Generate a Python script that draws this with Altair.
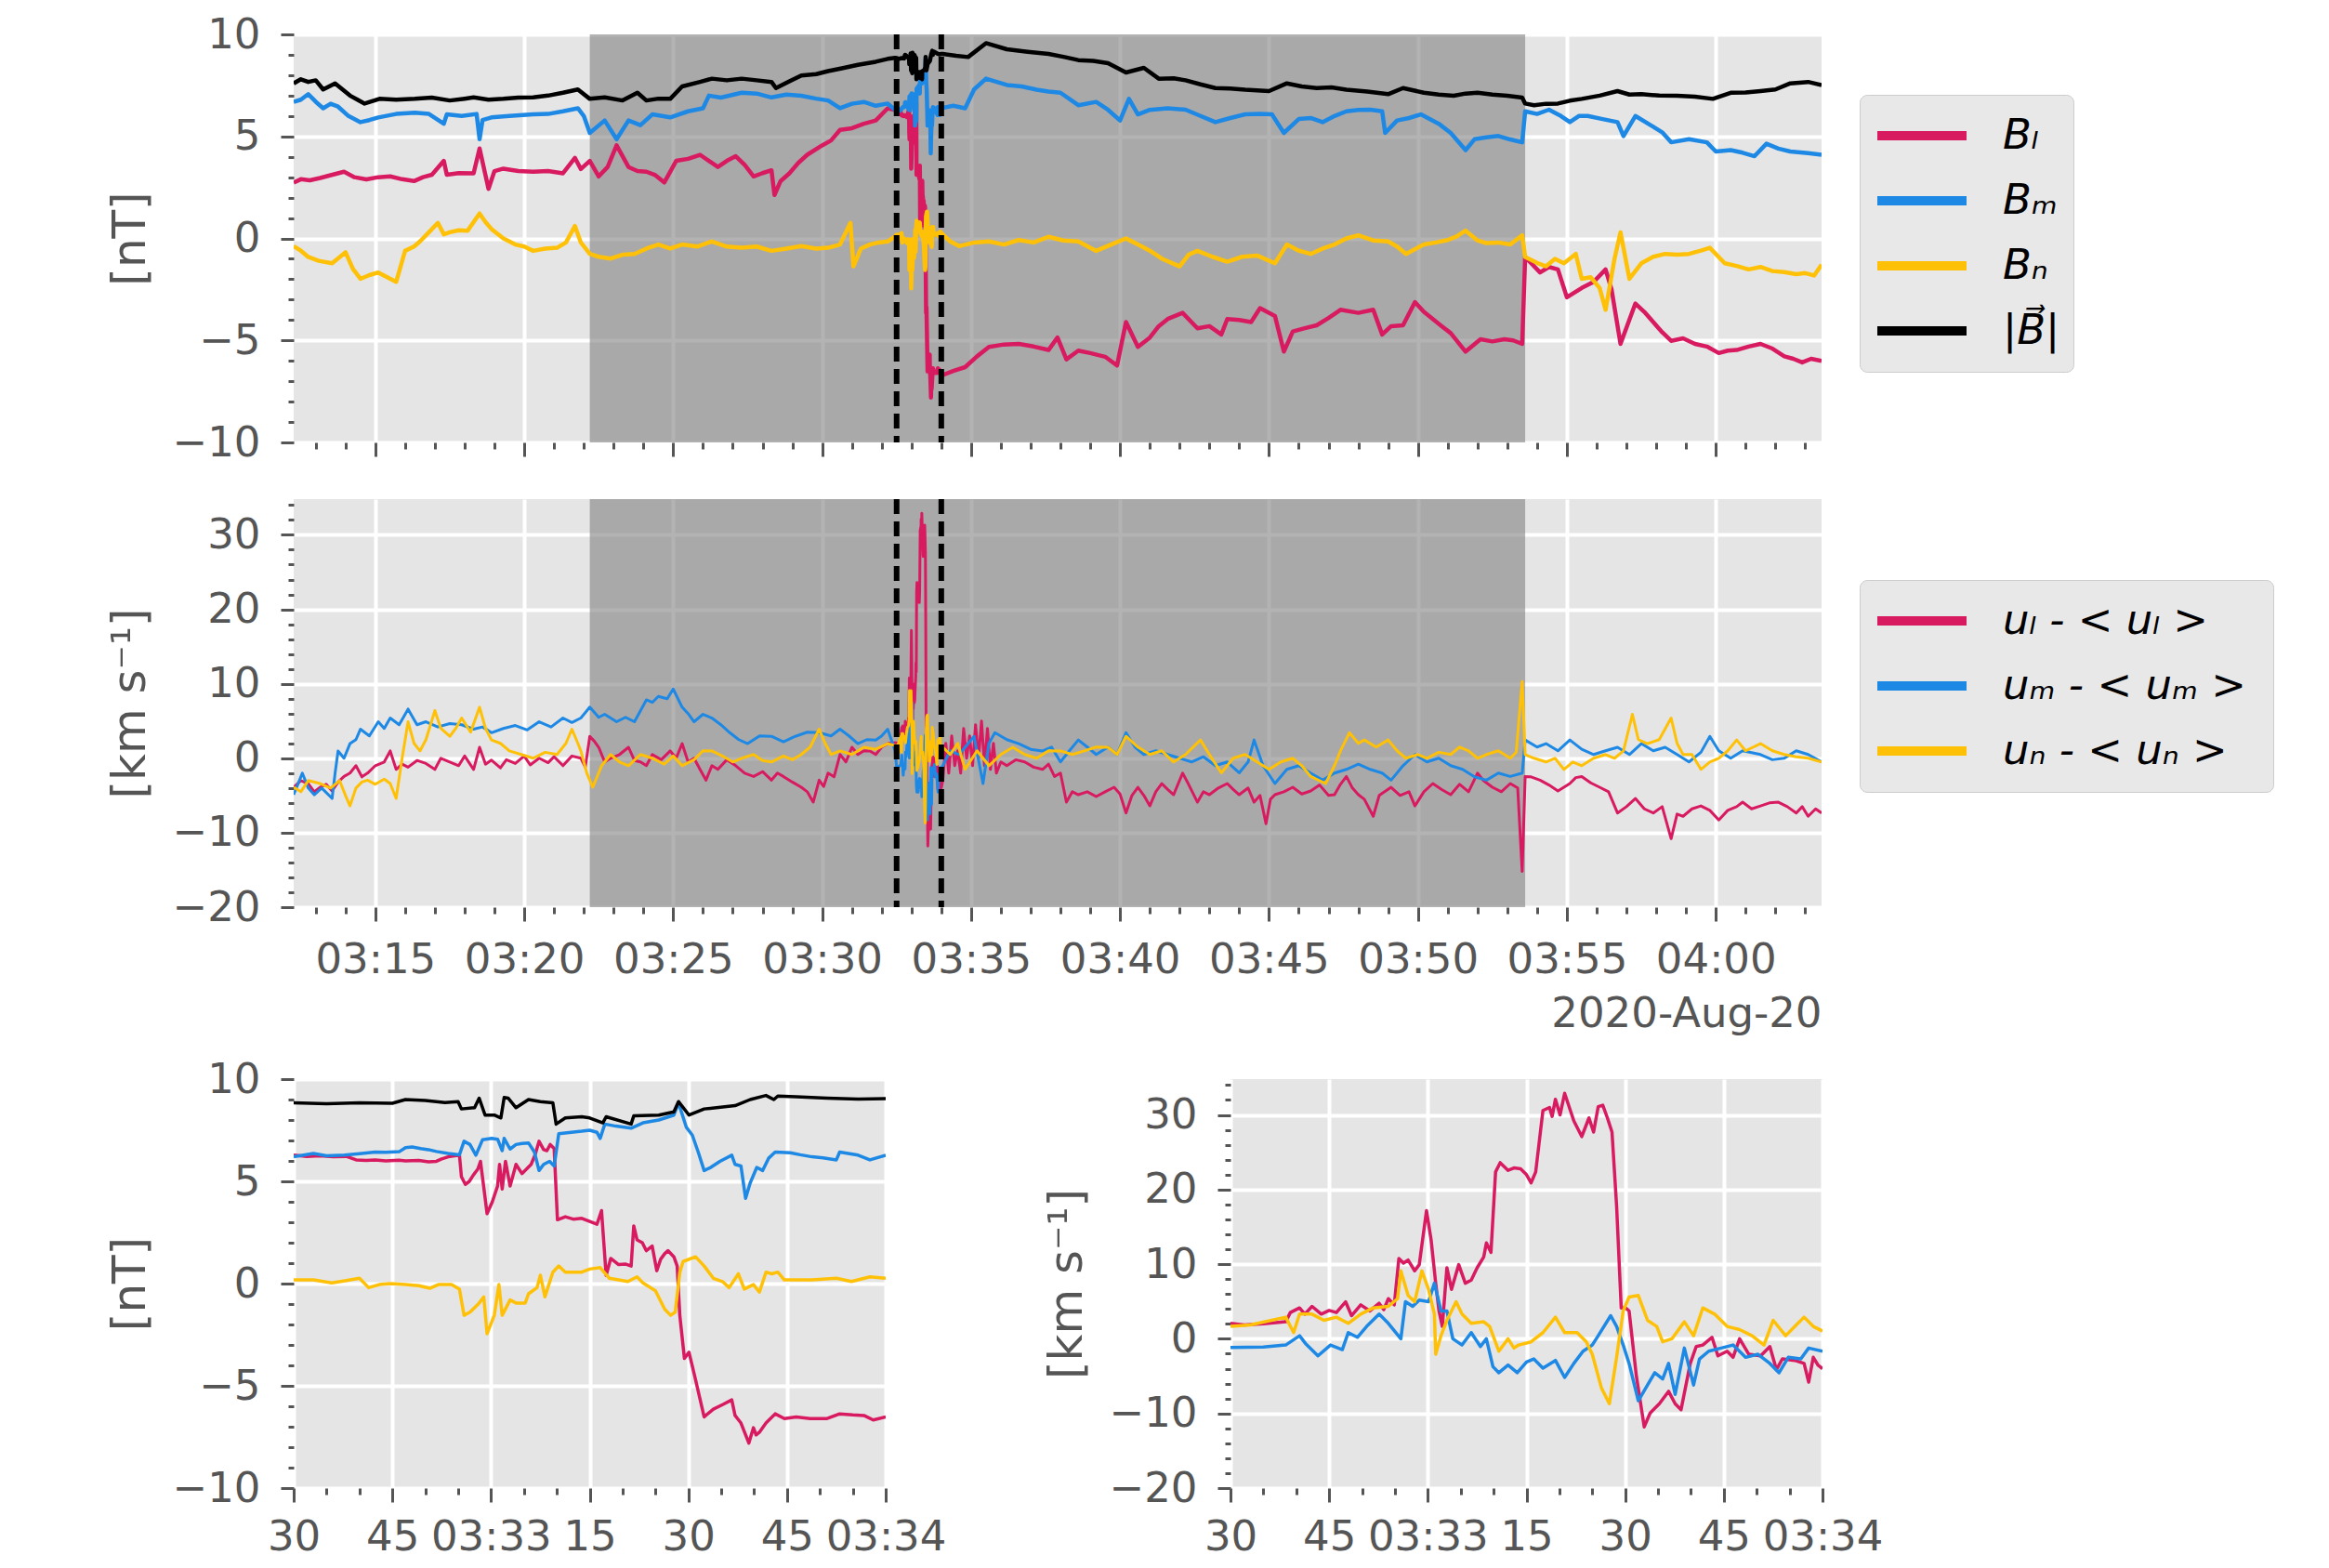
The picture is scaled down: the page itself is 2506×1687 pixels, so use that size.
import altair as alt
import pandas as pd

# ---------------- values ----------------
# Overview panels: (minutes after 03:00, value). Zoom panels: (seconds after 03:32:00, value)

BT_PRE = [(12.26, 7.6), (12.5, 7.8), (12.75, 7.67), (13.0, 7.75), (13.25, 7.3), (13.65, 7.6), (13.9, 7.3), (14.15, 7.0),
          (14.4, 6.8), (14.64, 6.61), (15.14, 6.84), (15.7, 6.8), (16.33, 6.84), (16.9, 6.9), (17.5, 6.76), (18.0, 6.85),
          (18.3, 6.91), (18.8, 6.8), (19.3, 6.84), (19.8, 6.9), (20.3, 6.91), (20.8, 7.0), (21.3, 7.14), (21.8, 7.3),
          (22.2, 6.84), (22.7, 6.91), (23.3, 6.76), (23.8, 7.14), (24.1, 6.76), (24.5, 6.85), (24.9, 6.84), (25.3, 7.45),
          (25.9, 7.67), (26.3, 7.83), (26.8, 7.75), (27.3, 7.83), (27.8, 7.75), (28.3, 7.67), (28.45, 7.37), (28.9, 7.7),
          (29.3, 7.98), (29.8, 8.05), (30.2, 8.2), (30.7, 8.35), (31.2, 8.51), (31.8, 8.66), (32.2, 8.8), (32.45, 8.85)]
BT_POST = [(34.05, 9.04), (34.5, 8.95), (34.9, 8.89), (35.5, 9.57), (36.2, 9.27), (36.9, 9.15), (37.6, 9.04), (38.1, 8.9),
           (38.6, 8.74), (39.1, 8.7), (39.6, 8.59), (40.2, 8.13), (40.8, 8.36), (41.3, 7.83), (41.8, 7.85), (42.2, 7.75),
           (42.7, 7.55), (43.2, 7.37), (43.7, 7.35), (44.2, 7.29), (45.0, 7.22), (45.6, 7.6), (46.1, 7.45), (46.6, 7.37),
           (47.1, 7.4), (47.6, 7.29), (48.3, 7.2), (49.0, 7.07), (49.5, 7.37), (50.2, 7.14), (50.7, 7.05), (51.2, 6.99),
           (51.6, 7.1), (52.0, 7.14), (52.5, 7.05), (53.0, 6.99), (53.5, 6.9), (53.6, 6.61), (53.9, 6.53), (54.3, 6.6),
           (54.7, 6.61), (55.1, 6.75), (55.5, 6.84), (56.1, 7.0), (56.7, 7.22), (57.1, 7.05), (57.5, 7.07), (58.1, 7.0),
           (58.7, 6.99), (59.3, 6.95), (59.9, 6.84), (60.5, 7.14), (61.0, 7.15), (61.5, 7.22), (62.0, 7.3), (62.5, 7.6),
           (63.1, 7.67), (63.55, 7.52)]

BM_PRE = [(12.26, 6.69), (12.5, 6.8), (12.75, 7.07), (13.0, 6.7), (13.25, 6.38), (13.5, 6.6), (13.75, 6.46), (14.1, 6.0),
          (14.5, 5.7), (14.8, 5.8), (15.1, 5.93), (15.7, 6.1), (16.33, 6.16), (16.8, 6.1), (17.3, 5.62), (17.4, 6.08),
          (17.9, 6.0), (18.4, 6.1), (18.5, 4.86), (18.6, 5.8), (18.9, 5.93), (19.5, 6.0), (20.3, 6.08), (20.8, 6.1),
          (21.3, 6.23), (21.8, 6.38), (22.0, 6.0), (22.2, 5.17), (22.7, 5.78), (23.1, 4.86), (23.5, 5.78), (23.9, 5.55),
          (24.3, 6.08), (24.9, 5.93), (25.5, 6.23), (26.0, 6.38), (26.2, 7.0), (26.6, 6.9), (27.3, 7.14), (27.8, 7.1),
          (28.3, 6.91), (28.8, 7.05), (29.3, 6.99), (29.8, 6.85), (30.2, 6.76), (30.6, 6.38), (31.0, 6.6), (31.4, 6.69),
          (31.8, 6.5), (32.2, 6.61), (32.45, 6.3)]
BM_POST = [(34.05, 6.4), (34.4, 6.5), (34.8, 6.38), (35.1, 7.3), (35.5, 7.83), (36.2, 7.52), (36.7, 7.45), (37.2, 7.29),
           (37.6, 7.2), (38.0, 7.14), (38.6, 6.53), (39.2, 6.69), (39.6, 6.3), (40.0, 5.78), (40.3, 6.84), (40.6, 6.08),
           (41.0, 6.3), (41.6, 6.38), (42.2, 6.31), (42.7, 6.0), (43.2, 5.7), (43.7, 5.9), (44.2, 6.08), (44.7, 6.1),
           (45.1, 6.08), (45.5, 5.17), (46.0, 5.85), (46.4, 5.9), (46.8, 5.7), (47.2, 6.0), (47.6, 6.23), (48.0, 6.3),
           (48.4, 6.31), (48.8, 6.23), (48.9, 5.17), (49.3, 5.78), (49.7, 5.9), (50.1, 6.08), (50.7, 5.62), (51.1, 5.17),
           (51.6, 4.33), (51.9, 4.86), (52.3, 4.95), (52.7, 5.02), (53.1, 4.85), (53.5, 4.71), (53.6, 6.23), (54.0, 6.1),
           (54.4, 6.31), (54.8, 6.0), (55.1, 5.7), (55.4, 6.0), (55.7, 6.0), (56.2, 5.85), (56.7, 5.7), (56.9, 5.02),
           (57.3, 6.0), (57.9, 5.47), (58.2, 5.2), (58.5, 4.71), (59.1, 4.86), (59.7, 4.71), (60.0, 4.26), (60.5, 4.33),
           (60.9, 4.2), (61.3, 4.03), (61.7, 4.64), (62.1, 4.4), (62.5, 4.26), (63.1, 4.18), (63.55, 4.1)]

BL_PRE = [(12.26, 2.74), (12.5, 2.9), (12.8, 2.85), (13.15, 2.96), (13.5, 3.1), (13.95, 3.27), (14.3, 3.0), (14.7, 2.89),
          (15.1, 3.0), (15.5, 3.04), (15.9, 2.9), (16.3, 2.81), (16.6, 3.0), (16.9, 3.12), (17.3, 3.8), (17.4, 3.12),
          (17.8, 3.2), (18.3, 3.19), (18.5, 4.41), (18.8, 2.43), (19.0, 3.3), (19.3, 3.42), (19.8, 3.3), (20.3, 3.27),
          (20.8, 3.3), (21.3, 3.19), (21.7, 3.95), (21.9, 3.4), (22.2, 3.8), (22.5, 3.04), (22.8, 3.5), (23.1, 4.56),
          (23.5, 3.5), (23.8, 3.3), (24.1, 3.27), (24.4, 3.1), (24.7, 2.74), (25.1, 3.8), (25.5, 3.9), (25.9, 4.1),
          (26.2, 3.8), (26.5, 3.5), (26.8, 3.8), (27.1, 4.03), (27.4, 3.6), (27.7, 3.04), (28.0, 3.2), (28.3, 3.34),
          (28.4, 2.13), (28.6, 2.8), (28.9, 3.19), (29.2, 3.7), (29.5, 4.1), (30.0, 4.56), (30.3, 4.8), (30.6, 5.32),
          (31.0, 5.4), (31.4, 5.62), (31.8, 5.78), (32.2, 6.38), (32.45, 6.3)]
BL_POST = [(34.05, -6.7), (34.4, -6.5), (34.8, -6.31), (35.2, -5.78), (35.6, -5.32), (36.1, -5.2), (36.6, -5.17),
           (37.1, -5.3), (37.6, -5.47), (37.9, -4.86), (38.2, -5.93), (38.6, -5.5), (39.0, -5.62), (39.5, -5.8),
           (39.9, -6.23), (40.2, -4.1), (40.6, -5.32), (41.0, -4.86), (41.3, -4.3), (41.6, -3.95), (42.1, -3.65),
           (42.6, -4.41), (43.0, -4.3), (43.4, -4.71), (43.6, -3.95), (44.0, -4.0), (44.4, -4.1), (44.7, -3.42),
           (45.2, -3.8), (45.5, -5.55), (45.8, -4.56), (46.2, -4.4), (46.6, -4.26), (47.0, -3.9), (47.4, -3.5),
           (48.0, -3.65), (48.5, -3.5), (48.8, -4.71), (49.1, -4.3), (49.5, -4.26), (49.9, -3.12), (50.2, -3.6),
           (50.5, -3.95), (50.8, -4.3), (51.1, -4.64), (51.6, -5.55), (52.1, -4.94), (52.5, -5.05), (52.9, -4.94),
           (53.2, -5.0), (53.5, -5.17), (53.6, -0.91), (54.1, -1.67), (54.4, -1.4), (54.7, -1.52), (55.0, -2.89),
           (55.5, -2.43), (55.9, -2.13), (56.3, -1.52), (56.5, -2.5), (56.8, -5.17), (57.3, -3.19), (57.6, -3.6),
           (57.9, -4.1), (58.2, -4.6), (58.5, -5.02), (58.9, -4.9), (59.3, -5.17), (59.7, -5.3), (60.1, -5.62),
           (60.4, -5.5), (60.7, -5.47), (61.1, -5.3), (61.5, -5.17), (61.9, -5.4), (62.3, -5.78), (62.6, -5.9),
           (62.9, -6.08), (63.2, -5.9), (63.55, -6.0)]

BN_PRE = [(12.26, -0.38), (12.5, -0.6), (12.75, -0.91), (13.1, -1.1), (13.55, -1.22), (14.0, -0.68), (14.25, -1.5),
          (14.5, -1.98), (14.8, -1.8), (15.1, -1.67), (15.4, -1.9), (15.7, -2.13), (16.0, -0.61), (16.3, -0.4),
          (16.5, -0.15), (16.8, 0.3), (17.1, 0.76), (17.3, 0.2), (17.5, 0.3), (17.8, 0.4), (18.1, 0.38), (18.5, 1.22),
          (18.7, 0.8), (18.9, 0.46), (19.3, 0.0), (19.7, -0.3), (20.0, -0.4), (20.3, -0.61), (20.7, -0.5), (21.1, -0.46),
          (21.4, -0.2), (21.7, 0.61), (21.9, -0.2), (22.2, -0.76), (22.5, -0.9), (22.9, -0.99), (23.3, -0.8),
          (23.7, -0.76), (24.1, -0.5), (24.5, -0.3), (24.9, -0.5), (25.3, -0.3), (25.8, -0.4), (26.3, -0.15),
          (26.8, -0.4), (27.3, -0.46), (27.8, -0.4), (28.3, -0.61), (28.8, -0.5), (29.3, -0.38), (29.8, -0.5),
          (30.2, -0.46), (30.6, -0.3), (30.95, 0.76), (31.05, -1.37), (31.3, -0.5), (31.6, -0.3), (31.9, -0.2),
          (32.2, -0.15), (32.45, 0.1)]
BN_POST = [(34.05, 0.2), (34.3, -0.15), (34.6, -0.38), (35.1, -0.2), (35.6, -0.15), (36.1, -0.3), (36.6, -0.08),
           (37.1, -0.2), (37.6, 0.08), (38.1, -0.1), (38.6, -0.15), (39.2, -0.61), (39.7, -0.3), (40.2, 0.0),
           (40.6, -0.3), (41.0, -0.6), (41.4, -0.99), (42.0, -1.37), (42.3, -0.8), (42.6, -0.61), (43.1, -0.9),
           (43.6, -1.14), (44.1, -0.9), (44.6, -0.84), (45.2, -1.22), (45.6, -0.3), (46.0, -0.6), (46.4, -0.76),
           (46.8, -0.5), (47.2, -0.3), (47.6, 0.0), (48.0, 0.15), (48.5, -0.1), (49.0, -0.15), (49.3, -0.4),
           (49.6, -0.76), (50.2, -0.3), (50.6, -0.2), (51.0, -0.08), (51.3, 0.1), (51.6, 0.38), (52.0, -0.1),
           (52.3, -0.23), (52.7, -0.2), (53.1, -0.3), (53.5, 0.15), (53.6, -0.91), (54.0, -1.2), (54.3, -1.37),
           (54.6, -1.0), (54.9, -1.22), (55.3, -0.76), (55.5, -1.98), (55.8, -1.9), (56.1, -2.43), (56.3, -3.5),
           (56.6, -1.0), (56.8, 0.3), (57.1, -1.98), (57.5, -1.22), (57.9, -0.9), (58.3, -0.76), (58.7, -0.8),
           (59.1, -0.76), (59.5, -0.6), (59.8, -0.46), (60.3, -1.22), (60.7, -1.35), (61.1, -1.52), (61.5, -1.4),
           (61.9, -1.6), (62.3, -1.65), (62.7, -1.75), (63.0, -1.7), (63.3, -1.82), (63.55, -1.29)]

UL_PRE = [(12.26, -3.9), (12.5, -3.0), (12.75, -3.4), (12.95, -4.5), (13.15, -3.9), (13.35, -3.5), (13.55, -4.4),
          (13.75, -3.2), (13.95, -2.45), (14.15, -2.0), (14.35, -1.0), (14.55, -2.5), (14.74, -2.0), (15.0, -1.0),
          (15.3, -0.5), (15.5, 0.98), (15.7, -1.5), (15.9, -0.8), (16.1, -1.2), (16.4, -0.3), (16.7, -0.7), (17.0, -1.5),
          (17.2, 0.0), (17.5, -0.5), (17.8, -1.0), (18.0, 0.3), (18.3, -1.5), (18.5, 1.47), (18.7, -0.8), (18.9, -0.25),
          (19.2, -1.3), (19.4, -0.2), (19.7, -0.7), (20.0, 0.3), (20.2, -0.9), (20.5, 0.0), (20.8, -0.6), (21.0, 0.2),
          (21.3, -1.0), (21.6, 0.3), (21.9, 0.0), (22.05, -1.2), (22.2, 2.94), (22.35, 2.3), (22.5, 1.47), (22.7, -0.5),
          (22.9, 0.0), (23.2, 0.5), (23.5, 1.47), (23.7, -0.3), (23.9, -0.5), (24.1, -1.0), (24.3, 0.5), (24.6, -0.2),
          (24.9, 0.98), (25.1, 0.0), (25.3, 1.96), (25.5, -0.5), (25.7, 0.0), (25.9, -1.5), (26.1, -2.94), (26.3, -1.0),
          (26.5, -1.5), (26.8, -0.2), (27.1, -1.0), (27.4, -2.0), (27.7, -2.45), (28.0, -1.8), (28.3, -2.94),
          (28.5, -2.0), (28.7, -2.45), (29.0, -3.2), (29.3, -3.9), (29.5, -4.5), (29.7, -5.9), (29.9, -2.94),
          (30.05, -3.8), (30.2, -2.0), (30.4, -2.5), (30.6, 0.5), (30.8, -0.5), (31.0, 1.47), (31.2, 0.5), (31.4, 1.0),
          (31.6, 0.98), (31.8, 0.5), (32.0, 1.5), (32.2, 1.96), (32.45, 2.1)]
UL_POST = [(34.05, -3.0), (34.15, 2.0), (34.25, -2.0), (34.35, 3.0), (34.45, -1.0), (34.55, 1.0), (34.65, -2.0),
           (34.75, 4.0), (34.85, 0.0), (34.95, 3.0), (35.05, -1.0), (35.15, 4.5), (35.25, 0.0), (35.35, 5.0),
           (35.45, -1.0), (35.55, 4.0), (35.65, -1.5), (35.75, 2.0), (35.85, -2.0), (36.0, -0.5), (36.2, -1.0),
           (36.5, -0.2), (36.8, -0.5), (37.1, -1.2), (37.4, -1.5), (37.6, -0.8), (37.8, -2.45), (38.0, -2.0),
           (38.2, -5.9), (38.4, -4.5), (38.6, -4.9), (38.9, -4.5), (39.2, -5.15), (39.5, -4.5), (39.8, -3.9),
           (40.0, -4.8), (40.2, -7.35), (40.4, -5.0), (40.6, -3.9), (40.8, -5.0), (41.0, -6.4), (41.2, -4.5),
           (41.4, -3.4), (41.6, -4.2), (41.8, -4.9), (42.1, -2.0), (42.3, -3.5), (42.6, -5.9), (42.8, -4.5),
           (43.0, -4.9), (43.3, -4.0), (43.6, -3.4), (43.8, -4.2), (44.0, -4.9), (44.3, -4.0), (44.5, -5.9),
           (44.7, -5.0), (44.9, -8.8), (45.05, -5.5), (45.2, -4.9), (45.5, -4.5), (45.8, -3.9), (46.1, -4.8),
           (46.4, -4.4), (46.7, -3.6), (47.0, -5.0), (47.2, -4.9), (47.4, -3.5), (47.6, -2.45), (47.8, -4.0),
           (48.0, -4.9), (48.2, -5.5), (48.5, -7.8), (48.7, -5.0), (49.1, -3.9), (49.4, -5.0), (49.7, -4.5),
           (49.9, -6.4), (50.2, -4.5), (50.5, -3.4), (50.8, -4.2), (51.1, -4.9), (51.4, -3.5), (51.7, -4.5),
           (52.0, -2.0), (52.2, -3.0), (52.5, -3.9), (52.8, -4.5), (53.1, -3.4), (53.35, -4.0), (53.5, -15.2),
           (53.6, -2.45), (53.8, -2.5), (54.1, -2.94), (54.4, -3.6), (54.7, -4.4), (55.1, -3.4), (55.3, -2.6),
           (55.5, -2.45), (55.8, -3.3), (56.1, -3.9), (56.4, -4.5), (56.7, -7.35), (57.0, -6.5), (57.3, -5.4),
           (57.6, -6.8), (57.9, -7.35), (58.2, -6.5), (58.5, -10.8), (58.7, -7.5), (58.9, -7.8), (59.2, -6.8),
           (59.5, -6.4), (59.8, -7.0), (60.1, -8.3), (60.4, -7.0), (60.7, -6.5), (60.9, -5.9), (61.2, -6.8),
           (61.5, -6.4), (61.8, -6.0), (62.1, -5.9), (62.4, -6.5), (62.7, -7.35), (62.9, -6.5), (63.1, -7.8),
           (63.35, -6.8), (63.55, -7.35)]

UM_PRE = [(12.26, -4.9), (12.4, -3.5), (12.55, -2.0), (12.75, -4.0), (12.95, -4.9), (13.2, -4.0), (13.55, -5.4),
          (13.65, -2.0), (13.75, 0.98), (13.95, 0.0), (14.15, 1.96), (14.35, 2.5), (14.5, 3.9), (14.8, 3.0), (15.1, 4.9),
          (15.3, 4.0), (15.5, 5.4), (15.8, 4.5), (16.1, 6.6), (16.4, 4.5), (16.7, 4.9), (17.1, 4.2), (17.5, 4.66),
          (17.9, 4.5), (18.3, 3.9), (18.6, 4.2), (18.9, 3.43), (19.3, 4.0), (19.7, 4.4), (20.1, 3.8), (20.5, 4.9),
          (20.9, 4.2), (21.3, 5.4), (21.6, 4.8), (21.9, 5.4), (22.2, 6.86), (22.5, 5.5), (22.7, 5.9), (23.1, 4.9),
          (23.4, 5.5), (23.7, 4.9), (24.1, 7.84), (24.3, 7.5), (24.5, 8.3), (24.8, 8.0), (25.0, 9.3), (25.3, 6.86),
          (25.5, 6.0), (25.7, 4.9), (26.0, 5.9), (26.3, 5.4), (26.6, 4.5), (26.9, 3.43), (27.2, 2.5), (27.5, 1.96),
          (27.9, 3.0), (28.3, 2.94), (28.7, 2.2), (29.1, 2.94), (29.5, 3.5), (29.9, 3.43), (30.3, 3.0), (30.6, 3.9),
          (30.9, 3.0), (31.2, 1.96), (31.5, 2.5), (31.8, 2.45), (32.0, 3.0), (32.2, 3.9), (32.45, 1.0)]
UM_POST = [(34.05, -1.0), (34.3, 1.0), (34.6, 0.5), (35.1, 2.94), (35.4, -3.4), (35.6, 2.0), (35.8, 3.43), (36.2, 2.5),
           (36.6, 1.96), (37.0, 1.2), (37.4, 0.98), (37.7, 1.5), (38.0, -0.5), (38.3, 1.0), (38.6, 2.45), (38.9, 1.5),
           (39.2, 0.5), (39.6, 1.5), (39.9, 0.5), (40.2, 3.43), (40.5, 1.5), (40.8, 0.5), (41.2, 1.0), (41.6, 0.5),
           (42.0, 0.0), (42.4, -0.5), (42.8, 0.2), (43.2, -1.0), (43.6, -0.5), (44.0, -1.96), (44.3, -0.5), (44.5, 2.45),
           (44.8, -1.0), (45.2, -3.4), (45.6, -1.5), (46.0, -1.0), (46.4, -2.0), (46.8, -2.94), (47.2, -2.0),
           (47.6, -1.5), (48.0, -0.8), (48.4, -1.5), (48.8, -2.0), (49.1, -2.94), (49.5, -1.0), (49.9, 0.5),
           (50.3, -0.5), (50.7, 0.0), (51.1, -1.0), (51.5, -1.5), (51.9, -2.5), (52.3, -2.94), (52.7, -2.0),
           (53.1, -2.45), (53.5, -2.0), (53.6, 2.45), (54.0, 1.5), (54.3, 1.96), (54.7, 1.0), (55.1, 2.45), (55.5, 1.2),
           (55.9, 0.5), (56.3, 1.0), (56.7, 1.47), (57.1, 0.5), (57.5, 1.96), (57.9, 1.0), (58.3, 1.47), (58.7, 0.5),
           (59.1, -0.5), (59.5, 0.8), (59.8, 2.94), (60.1, 1.0), (60.5, 0.0), (60.9, 1.0), (61.5, 0.5), (61.9, -0.2),
           (62.3, 0.0), (62.7, 1.0), (63.1, 0.5), (63.55, -0.5)]

UN_PRE = [(12.26, -3.9), (12.5, -4.5), (12.75, -3.0), (13.15, -3.4), (13.5, -4.0), (13.8, -3.0), (14.0, -5.0),
          (14.15, -6.4), (14.35, -4.0), (14.55, -3.2), (14.74, -2.94), (15.0, -3.5), (15.3, -2.8), (15.5, -3.4),
          (15.7, -5.4), (15.9, 0.0), (16.1, 4.9), (16.3, 2.0), (16.5, 0.98), (16.7, 2.5), (17.0, 6.4), (17.2, 4.0),
          (17.5, 2.94), (17.7, 4.0), (17.9, 5.4), (18.2, 3.5), (18.5, 6.86), (18.7, 4.0), (18.9, 2.45), (19.2, 2.0),
          (19.5, 0.98), (19.9, 0.5), (20.3, 0.0), (20.7, 0.8), (21.1, 0.5), (21.4, 2.0), (21.6, 3.9), (21.8, 2.0),
          (21.9, 0.98), (22.1, -2.0), (22.3, -3.9), (22.6, -1.0), (22.9, 0.5), (23.2, -0.5), (23.5, -1.0), (23.9, 0.5),
          (24.3, 0.0), (24.7, -0.8), (25.0, 0.3), (25.3, -1.0), (25.7, -0.2), (26.0, 1.0), (26.3, 0.98), (26.7, 0.2),
          (27.0, -0.5), (27.3, 0.0), (27.7, 0.5), (28.0, -0.3), (28.3, -0.5), (28.7, 0.3), (29.0, -0.2), (29.3, 0.5),
          (29.6, 1.5), (29.9, 3.9), (30.1, 2.0), (30.3, 0.5), (30.6, 0.98), (31.0, 0.5), (31.4, 1.47), (31.8, 1.2),
          (32.2, 1.96), (32.45, 1.7)]
UN_POST = [(34.05, 1.5), (34.3, 0.5), (34.55, 2.0), (34.8, -1.5), (35.2, 1.0), (35.6, -1.0), (36.0, 0.5), (36.4, 1.47),
           (36.8, 0.5), (37.2, 0.0), (37.6, 1.0), (38.0, 0.98), (38.4, 0.5), (38.8, 0.98), (39.2, 1.5), (39.6, 1.47),
           (39.9, 0.5), (40.2, 2.94), (40.6, 1.5), (41.0, 0.5), (41.4, 1.0), (41.8, -0.5), (42.2, 0.5), (42.7, 2.45),
           (43.0, 0.5), (43.4, -1.96), (43.8, 0.0), (44.2, 0.5), (44.6, -0.5), (45.0, -1.5), (45.4, -0.5), (45.8, 0.0),
           (46.1, -1.0), (46.4, -2.45), (46.9, -3.4), (47.2, -1.0), (47.4, 0.98), (47.7, 3.43), (48.0, 2.0),
           (48.2, 2.45), (48.6, 1.5), (49.0, 2.45), (49.3, 1.0), (49.6, 0.0), (50.0, 0.5), (50.3, 0.0), (50.7, 0.8),
           (51.1, 0.5), (51.4, 1.5), (51.7, 0.98), (52.0, 0.0), (52.3, 0.5), (52.7, 1.0), (53.1, 0.0), (53.3, 0.8),
           (53.5, 10.3), (53.6, 0.5), (53.9, 0.0), (54.3, -0.5), (54.6, 0.0), (54.9, -1.5), (55.2, -0.5), (55.5, -1.0),
           (55.9, 0.0), (56.3, 0.5), (56.6, 0.0), (56.9, 0.98), (57.2, 5.9), (57.4, 2.5), (57.7, 1.96), (58.1, 2.5),
           (58.5, 5.4), (58.7, 2.0), (58.9, 0.5), (59.2, 0.5), (59.5, -1.5), (59.8, -0.5), (60.1, 0.0), (60.4, 1.0),
           (60.7, 2.45), (61.0, 1.0), (61.5, 1.96), (61.9, 1.0), (62.3, 0.5), (62.7, 0.2), (63.1, 0.0), (63.55, -0.5)]

# Zoomed interval 03:32:30 - 03:34:00 (seconds after 03:32:00)
ZBL = [(30, 6.28), (32, 6.22), (34, 6.25), (36, 6.2), (38, 6.22), (39.5, 6.05), (41, 6.02), (42.4, 6.05), (44, 6.0),
       (46, 6.03), (47, 6.0), (49, 6.02), (50.5, 5.95), (51.7, 5.98), (52.5, 6.1), (53.5, 6.2), (55.2, 6.28),
       (55.5, 5.23), (56.1, 4.85), (56.7, 5.0), (57.3, 5.3), (58.0, 5.6), (58.4, 5.98), (59.4, 3.42), (60.2, 4.0),
       (61.0, 4.77), (61.3, 5.83), (61.7, 4.62), (62.2, 5.98), (62.9, 4.77), (63.8, 5.83), (64.7, 5.38), (65.4, 5.6),
       (66.1, 5.83), (66.7, 6.3), (67.3, 6.96), (68.0, 6.55), (68.5, 6.5), (69.0, 6.8), (69.6, 6.6), (70.1, 3.12),
       (71.3, 3.27), (72.5, 3.15), (73.8, 3.19), (75, 3.04), (76.1, 2.9), (76.8, 3.57), (77.5, 0.4), (78.2, 1.23),
       (79.4, 0.93), (80.5, 0.95), (81.3, 0.86), (81.7, 2.82), (82.2, 2.14), (83.0, 2.0), (83.6, 1.61), (84.5, 1.84),
       (85.2, 0.63), (85.8, 1.2), (86.4, 1.46), (86.9, 1.61), (87.8, 1.31), (88.3, 0.86), (88.7, -1.55), (89.4, -3.66),
       (90.1, -3.36), (91.1, -4.71), (92.4, -6.52), (93.8, -6.14), (95.2, -5.92), (96.6, -5.69), (97.1, -6.45),
       (98.0, -6.82), (99.2, -7.8), (99.9, -7.05), (100.3, -7.4), (100.8, -7.27), (101.8, -6.82), (103.2, -6.37),
       (104.6, -6.6), (106.4, -6.52), (108.5, -6.6), (111.1, -6.6), (113.0, -6.37), (115, -6.42), (116.7, -6.45),
       (118.1, -6.67), (120, -6.52)]
ZBM = [(30, 6.2), (33, 6.36), (35, 6.25), (37.7, 6.28), (40, 6.35), (42.4, 6.43), (44, 6.42), (46.1, 6.46), (47, 6.65),
       (48, 6.68), (49.3, 6.6), (50.5, 6.55), (51.7, 6.46), (53.5, 6.36), (55.2, 6.3), (55.9, 6.96), (56.8, 6.8),
       (57.7, 6.28), (58.7, 7.03), (60.1, 7.1), (61.0, 7.06), (61.7, 6.5), (62.0, 7.1), (62.9, 6.58), (63.8, 6.8),
       (64.7, 6.85), (65.7, 6.88), (66.6, 6.43), (67.3, 5.53), (68.0, 5.83), (68.9, 5.98), (69.6, 5.75), (70.3, 7.33),
       (72.2, 7.4), (73.8, 7.45), (75, 7.5), (76.1, 7.4), (76.6, 7.1), (77.3, 7.8), (79, 7.7), (81.3, 7.6), (83.1, 7.86),
       (85.5, 8.0), (87.8, 8.24), (88.5, 8.84), (89.7, 7.64), (90.6, 7.26), (91.5, 6.43), (92.4, 5.53), (93.4, 5.68),
       (94.8, 5.98), (96.6, 6.28), (97.1, 5.83), (98.0, 5.75), (98.7, 4.17), (99.4, 4.92), (100.4, 5.68), (101.3, 5.53),
       (102.2, 6.13), (103.2, 6.43), (105.5, 6.4), (107, 6.3), (108.8, 6.2), (110.5, 6.15), (112.5, 6.05), (113.0, 6.43),
       (115.8, 6.28), (117.6, 6.05), (120, 6.28)]
ZBN = [(30, 0.18), (33, 0.18), (35.8, 0.03), (38, 0.15), (40, 0.26), (41.4, -0.2), (43, -0.05), (44.7, 0.0), (47, -0.05),
       (49, -0.1), (50.7, -0.23), (52, -0.05), (54, -0.05), (55.2, -0.27), (55.9, -1.55), (56.8, -1.4), (58.2, -0.95),
       (58.9, -0.65), (59.4, -2.45), (60.5, -1.55), (61.2, -0.05), (61.7, -1.55), (62.9, -0.8), (63.8, -0.95),
       (65.2, -0.95), (65.7, -0.5), (67.0, -0.2), (67.5, 0.41), (68.2, -0.65), (69.4, 0.56), (70.3, 0.86), (71.3, 0.56),
       (73.8, 0.56), (75, 0.71), (76.6, 0.78), (78.0, 0.26), (80.8, 0.1), (82.2, 0.33), (83.1, 0.03), (85.0, -0.35),
       (86.4, -1.25), (87.3, -1.55), (88.0, -1.4), (88.7, 0.56), (89.2, 1.08), (91.1, 1.31), (92.4, 0.86), (93.8, 0.26),
       (95.2, 0.1), (96.2, -0.2), (97.6, 0.48), (98.5, -0.27), (99.9, -0.05), (100.8, -0.42), (101.8, 0.56),
       (102.7, 0.48), (103.6, 0.56), (104.6, 0.18), (108.8, 0.18), (112.5, 0.26), (114.8, 0.1), (117.6, 0.33),
       (120, 0.26)]
ZBT = [(30, 8.84), (35, 8.8), (40, 8.84), (45, 8.82), (47, 9.0), (50, 8.95), (53, 8.85), (55, 8.9), (55.5, 8.54),
       (57.5, 8.6), (58.2, 9.07), (59.1, 8.24), (60.5, 8.24), (61.5, 8.1), (62.0, 9.1), (62.6, 9.07), (63.8, 8.6),
       (65.7, 9.0), (67.5, 8.9), (69.4, 8.84), (69.9, 7.8), (71.3, 8.1), (73.8, 8.16), (75, 8.1), (77.0, 7.86),
       (77.5, 8.16), (81.3, 7.8), (81.7, 8.2), (85.5, 8.24), (87.8, 8.4), (88.5, 8.9), (90.1, 8.24), (92.4, 8.54),
       (97.1, 8.7), (99.4, 9.0), (101.8, 9.2), (103.0, 9.0), (103.6, 9.17), (106.4, 9.14), (111.1, 9.07), (115.8, 9.02),
       (120, 9.04)]
ZUL = [(30, 2.07), (32.1, 1.86), (35, 2.0), (38.4, 2.28), (39.1, 3.52), (40.5, 4.14), (41.3, 3.3), (42.4, 4.35),
       (43.8, 3.31), (45, 3.8), (46.1, 3.52), (47.5, 4.97), (48.4, 3.1), (49.8, 4.55), (51.2, 3.73), (52.6, 4.76),
       (53.3, 3.9), (54.0, 5.38), (54.9, 4.55), (55.6, 10.77), (56.3, 10.14), (57.0, 10.56), (58.0, 9.11), (58.7, 9.94),
       (59.8, 17.18), (60.5, 13.25), (61.2, 7.45), (61.7, 3.73), (62.2, 1.66), (62.9, 9.52), (63.6, 6.63), (64.7, 9.94),
       (65.7, 7.45), (66.6, 7.87), (67.5, 9.52), (68.5, 10.97), (68.9, 12.84), (69.6, 11.59), (70.3, 22.36),
       (71.0, 23.6), (72.2, 22.57), (73.1, 22.9), (74.1, 22.77), (75.0, 22.0), (75.7, 20.9), (76.4, 22.36),
       (77.5, 30.6), (78.5, 31.0), (78.9, 29.8), (79.4, 32.1), (80.1, 30.0), (80.8, 32.9), (82.2, 29.2), (83.4, 27.1),
       (84.5, 29.6), (85.2, 27.7), (85.9, 31.1), (86.6, 31.3), (87.3, 29.6), (88.0, 27.7), (88.7, 17.8), (89.4, 4.14),
       (90.1, 4.14), (90.6, 3.73), (91.7, -4.97), (92.9, -11.8), (93.8, -9.94), (95.2, -8.7), (96.6, -7.04),
       (97.6, -8.7), (98.5, -9.5), (99.9, -3.3), (100.8, -1.04), (101.8, -0.83), (103.2, 0.2), (104.1, -2.28),
       (105.5, -1.66), (106.4, -2.48), (107.4, 0.0), (108.8, -2.07), (110.6, -2.28), (112.0, -1.04), (113.0, -4.14),
       (113.9, -2.69), (115.8, -2.9), (117.2, -3.3), (117.9, -5.8), (118.6, -2.48), (119.3, -3.5), (120, -4.0)]
ZUM = [(30, -1.16), (35, -1.1), (38.4, -0.83), (40.5, 0.41), (41.4, -0.62), (43.3, -2.28), (45.2, -0.83), (47.0, -1.45),
       (47.9, 0.83), (49.3, 0.2), (50.7, 1.66), (52.6, 3.31), (54.0, 2.07), (55.9, 0.0), (56.6, 4.97), (57.7, 4.35),
       (58.7, 5.18), (60.1, 4.97), (61.0, 7.45), (62.0, 3.73), (62.9, 3.73), (63.8, 0.0), (65.2, -0.83), (66.6, 0.83),
       (68.0, -1.04), (68.9, 0.0), (69.9, -3.73), (70.8, -4.55), (72.2, -3.52), (73.6, -4.55), (75.0, -3.1),
       (76.1, -2.7), (77.5, -3.93), (79.4, -2.9), (80.8, -5.18), (82.2, -3.3), (83.6, -1.66), (85.0, -0.83),
       (85.9, 0.41), (87.8, 3.1), (88.7, 1.66), (89.7, -0.83), (90.6, -3.3), (92.0, -8.3), (93.4, -6.2), (94.5, -4.55),
       (95.7, -5.38), (96.6, -3.3), (97.6, -7.45), (99.0, -1.24), (100.4, -6.2), (101.3, -2.7), (102.7, -1.66),
       (104.6, -1.24), (106.4, -0.83), (108.3, -2.48), (110.2, -2.07), (112.0, -3.3), (113.4, -4.55), (114.8, -2.48),
       (116.7, -2.7), (117.9, -1.24), (120, -1.66)]
ZUN = [(30, 1.66), (33, 1.86), (38.4, 2.9), (39.6, 0.83), (40.5, 3.31), (42.4, 3.31), (44.2, 2.48), (46.1, 2.9),
       (47.9, 2.07), (49.8, 3.31), (51.7, 4.14), (54.0, 4.35), (55.4, 5.38), (55.9, 9.1), (57.0, 5.8), (58.0, 4.97),
       (59.1, 9.1), (60.1, 6.63), (61.0, 3.31), (61.2, -2.07), (62.0, 0.41), (62.9, 2.48), (64.3, 4.97), (65.2, 3.31),
       (66.6, 2.07), (68.5, 2.28), (69.4, 1.66), (70.8, -1.66), (72.2, 0.0), (73.1, -1.24), (73.8, -0.83), (75.7, -0.41),
       (77.5, 0.83), (79.4, 2.9), (80.8, 0.83), (82.7, 0.83), (84.1, -0.41), (85.0, -2.07), (86.4, -6.6), (87.6, -8.7),
       (88.7, -2.48), (89.7, 3.73), (90.6, 5.59), (92.0, 5.8), (93.4, 2.48), (94.8, 1.66), (95.7, -0.41), (97.1, 0.0),
       (99.0, 2.28), (100.4, 0.41), (101.8, 4.14), (103.6, 3.31), (105.5, 1.66), (107.4, 1.24), (109.3, 0.41),
       (111.1, -0.83), (112.5, 2.48), (114.4, 0.41), (115.8, 1.66), (117.2, 2.9), (118.6, 1.66), (120, 1.04)]

SHADE_START, SHADE_END = 22.2, 53.6          # minutes after 03:00
DASHED = [32.5, 34.0]                        # minutes after 03:00
B_NAMES = ["B\u2097", "B\u2098", "B\u2099", "|B\u20d7|"]
U_NAMES = ["u\u2097 -  < u\u2097 >", "u\u2098 -  < u\u2098 >", "u\u2099 -  < u\u2099 >"]
B_COLORS = ["#D81B60", "#1E88E5", "#FFC107", "#000000"]
U_COLORS = ["#D81B60", "#1E88E5", "#FFC107"]

# ---------------- helpers ----------------
GREY = "#555555"
FONT = "DejaVu Sans"


def sec_to_min(pairs):
    return [(32 + s / 60.0, v) for s, v in pairs]


def long_df(names, series):
    rows = []
    for name, pairs in zip(names, series):
        for t, v in pairs:
            rows.append({"t": t, "v": v, "c": name})
    return pd.DataFrame(rows)


def y_axis(values, step, title):
    test = f"datum.value % {step} == 0"
    return alt.Axis(values=values, title=title,
                    labelExpr=f"{test} ? format(datum.value, 'd') : ''",
                    tickSize={"condition": {"test": test, "value": 14}, "value": 6},
                    gridOpacity={"condition": {"test": test, "value": 1}, "value": 0},
                    labelPadding=22, titlePadding=20)


def x_axis_wide(labels, title=None):
    test = "datum.value % 5 == 0"
    kw = dict(values=list(range(13, 64)), labels=labels,
              tickSize={"condition": {"test": test, "value": 15}, "value": 7},
              gridOpacity={"condition": {"test": test, "value": 1}, "value": 0},
              labelExpr=(f"{test} ? '0' + (3 + floor(datum.value / 60)) + ':' + "
                         "(datum.value % 60 < 10 ? '0' : '') + (datum.value % 60) : ''"),
              labelPadding=19)
    if title:
        kw.update(title=title, titleAnchor="end", titleAlign="right", titleFontSize=45, titlePadding=13)
    else:
        kw.update(title=None)
    return alt.Axis(**kw)


def x_axis_zoom():
    test = "datum.value % 15 == 0"
    return alt.Axis(values=list(range(30, 121, 5)), title=None,
                    tickSize={"condition": {"test": test, "value": 15}, "value": 7},
                    gridOpacity={"condition": {"test": test, "value": 1}, "value": 0},
                    labelExpr=(f"{test} ? (datum.value % 60 == 0 ? '03:' + (32 + datum.value / 60) : "
                               "'' + (datum.value % 60)) : ''"),
                    labelPadding=15)


def legend(x, y):
    return alt.Legend(title=None, orient="none", legendX=x, legendY=y, symbolType="stroke",
                      symbolSize=9216, symbolStrokeWidth=10, labelFontSize=45, labelFont=FONT,
                      labelFontStyle="italic", labelColor="#000000", labelOffset=34, labelLimit=600,
                      fillColor="#E8E8E8", strokeColor="#CCCCCC", cornerRadius=8, padding=14,
                      rowPadding=10, clipHeight=60)


def wide_panel(df, ydom, yaxis, xaxis, names, colors, leg, stroke):
    xs = alt.Scale(domain=[12.26, 63.55], nice=False, zero=False)
    ys = alt.Scale(domain=ydom, nice=False, zero=False)
    shade_df = pd.DataFrame({"x1": [SHADE_START], "x2": [SHADE_END], "y1": [ydom[0]], "y2": [ydom[1]]})
    shade = alt.Chart(shade_df).mark_rect(color="#808080", opacity=0.6).encode(
        x=alt.X("x1:Q", scale=xs, axis=xaxis), x2="x2:Q",
        y=alt.Y("y1:Q", scale=ys, axis=yaxis), y2="y2:Q")
    lines = alt.Chart(df).mark_line(strokeWidth=stroke, clip=True, strokeJoin="round").encode(
        x=alt.X("t:Q", scale=xs, axis=xaxis),
        y=alt.Y("v:Q", scale=ys, axis=yaxis),
        color=alt.Color("c:N", scale=alt.Scale(domain=names, range=colors), legend=leg))
    rules = alt.Chart(pd.DataFrame({"t": DASHED})).mark_rule(
        color="black", strokeWidth=6, strokeDash=[16, 8]).encode(x=alt.X("t:Q", scale=xs, axis=xaxis))
    return alt.layer(shade, lines, rules).properties(width=1644, height=439)


def zoom_panel(df, ydom, yaxis, names, colors):
    xs = alt.Scale(domain=[30, 120], nice=False, zero=False)
    ys = alt.Scale(domain=ydom, nice=False, zero=False)
    return alt.Chart(df).mark_line(strokeWidth=3.5, clip=True, strokeJoin="round").encode(
        x=alt.X("t:Q", scale=xs, axis=x_axis_zoom()),
        y=alt.Y("v:Q", scale=ys, axis=yaxis),
        color=alt.Color("c:N", scale=alt.Scale(domain=names, range=colors), legend=None)
    ).properties(width=637, height=440)


# ---------------- assemble data ----------------
top_df = long_df(B_NAMES, [BL_PRE + sec_to_min(ZBL) + BL_POST,
                           BM_PRE + sec_to_min(ZBM) + BM_POST,
                           BN_PRE + sec_to_min(ZBN) + BN_POST,
                           BT_PRE + sec_to_min(ZBT) + BT_POST])
mid_df = long_df(U_NAMES, [UL_PRE + sec_to_min(ZUL) + UL_POST,
                           UM_PRE + sec_to_min(ZUM) + UM_POST,
                           UN_PRE + sec_to_min(ZUN) + UN_POST])
zb_df = long_df(B_NAMES, [ZBL, ZBM, ZBN, ZBT])
zu_df = long_df(U_NAMES, [ZUL, ZUM, ZUN])

B_TICKS = list(range(-10, 11))
U_TICKS = list(range(-20, 35, 2))
U_DOM = [-20, 34.8]

top = wide_panel(top_df, [-10, 10], y_axis(B_TICKS, 5, "[nT]"), x_axis_wide(False),
                 B_NAMES, B_COLORS, legend(1685, 65), 4.5)
middle = wide_panel(mid_df, U_DOM, y_axis(U_TICKS, 10, "[km s\u207b\u00b9]"), x_axis_wide(True, "2020-Aug-20"),
                    U_NAMES, U_COLORS, legend(1685, 87), 3)
bl = zoom_panel(zb_df, [-10, 10], y_axis(B_TICKS, 5, "[nT]"), B_NAMES, B_COLORS)
br = zoom_panel(zu_df, U_DOM, y_axis(U_TICKS, 10, "[km s\u207b\u00b9]"), U_NAMES, U_COLORS)

upper = alt.vconcat(top, middle, spacing=61, bounds="flush").resolve_scale(color="independent")
lower = alt.hconcat(bl, br, spacing=371, bounds="flush").resolve_scale(color="independent")

chart = alt.vconcat(upper, lower, spacing=26).resolve_scale(color="independent").properties(
    padding={"left": 115, "top": 15, "right": 10, "bottom": 10},
    background="white",
).configure_view(
    stroke=None, fill="#E5E5E5"
).configure_axis(
    domain=False, tickColor=GREY, tickWidth=3, labelColor=GREY, labelFont=FONT, labelFontSize=45,
    titleColor=GREY, titleFont=FONT, titleFontSize=50, titleFontWeight="normal",
    gridColor="#FFFFFF", gridWidth=4, labelOverlap=False, labelFlush=False, labelBound=False
)

chart.save("out.html", embed_options={"renderer": "svg", "actions": False})
